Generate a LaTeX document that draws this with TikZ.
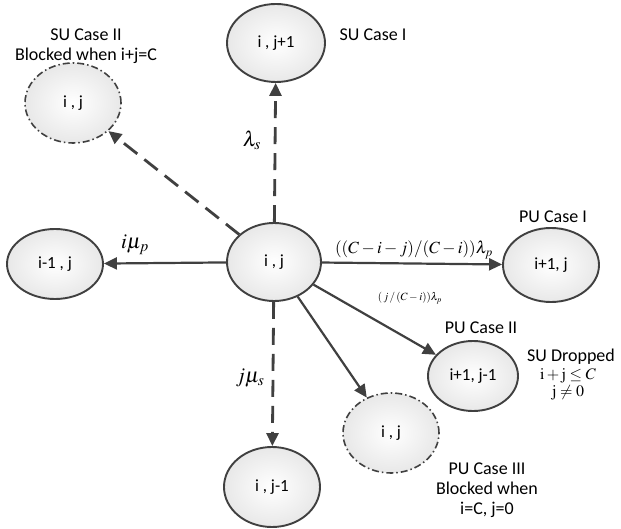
\documentclass[tikz,border=0pt]{standalone}
\usepackage{mathptmx}
\usepackage[no-math]{fontspec}
\setmainfont{Carlito}
\usetikzlibrary{shapes.geometric,arrows.meta}
\definecolor{ln}{HTML}{404040}
\begin{document}
\begin{tikzpicture}[x=1pt,y=-1pt,
  st/.style={ellipse, draw=ln, line width=1.9pt, inner sep=0pt, inner color=white, outer color=black!9, font=\fontsize{17}{19}\selectfont},
  blk/.style={st, dash pattern=on 7pt off 3pt on 1.5pt off 3pt, line width=1.6pt},
  arr/.style={draw=ln, line width=2.2pt, -{Triangle[length=13pt,width=12pt]}},
  darr/.style={arr, line width=2.8pt, dash pattern=on 17pt off 9pt},
  lbl/.style={font=\fontsize{18}{20}\selectfont, align=center, inner sep=0pt},
  mlbl/.style={inner sep=0pt, font=\fontsize{21}{24}\selectfont},
]
\useasboundingbox (0,0) rectangle (621,529);

\node[st, minimum width=94pt, minimum height=78pt] (c) at (274,262) {i , j};
\node[st, minimum width=98pt, minimum height=78pt] (t) at (276,43) {i , j+1};
\node[blk, minimum width=96pt, minimum height=80pt] (tl) at (73,103) {i , j};
\node[st, minimum width=96pt, minimum height=70pt] (l) at (55,264) {i-1 , j};
\node[st, minimum width=96pt, minimum height=74pt] (r) at (551,265) {i+1, j};
\node[st, minimum width=90pt, minimum height=70pt] (br) at (473,376) {i+1, j-1};
\node[blk, minimum width=96pt, minimum height=80pt] (bm) at (391,433) {i , j};
\node[st, minimum width=96pt, minimum height=80pt] (b) at (272,487) {i , j-1};

\draw[darr] (c) -- (t);
\draw[darr] (c) -- (tl);
\draw[arr] (c) -- (l);
\draw[arr] (c) -- (r);
\draw[arr] (c) -- (br);
\draw[arr] (c) -- (bm);
\draw[darr] (c) -- (b);

\node[lbl] (su2) at (86,46) {SU Case II\\Blocked when i+j=C};
\node[lbl] (su1) at (373,35) {SU Case I};
\node[lbl] (pu1) at (553,217) {PU Case I};
\node[lbl] (pu2) at (481,328) {PU Case II};
\node[lbl] (sud) at (571,357) {SU Dropped};
\node[inner sep=0pt, font=\fontsize{16}{18}\selectfont] (cond1) at (568,376) {$\mathrm{i+j}\leq C$};
\node[inner sep=0pt, font=\fontsize{16}{18}\selectfont] (cond2) at (568,393) {$\mathrm{j}\neq 0$};
\node[lbl] (pu3) at (487,490) {PU Case III\\Blocked when\\i=C, j=0};

\node[mlbl] (ls) at (252,140) {$\lambda_s$};
\node[mlbl] (imu) at (135,245) {$i\mu_p$};
\node[mlbl] (jmu) at (250,378) {$j\mu_s$};
\node[inner sep=0pt, font=\fontsize{17}{19}\selectfont] (big) at (414,250) {$((C-i-j)/(C-i))\lambda_p$};
\node[inner sep=0pt, font=\fontsize{11}{13}\selectfont] (small) at (410,298) {$(\,j\,/\,(C-i))\lambda_p$};
\end{tikzpicture}
\end{document}
